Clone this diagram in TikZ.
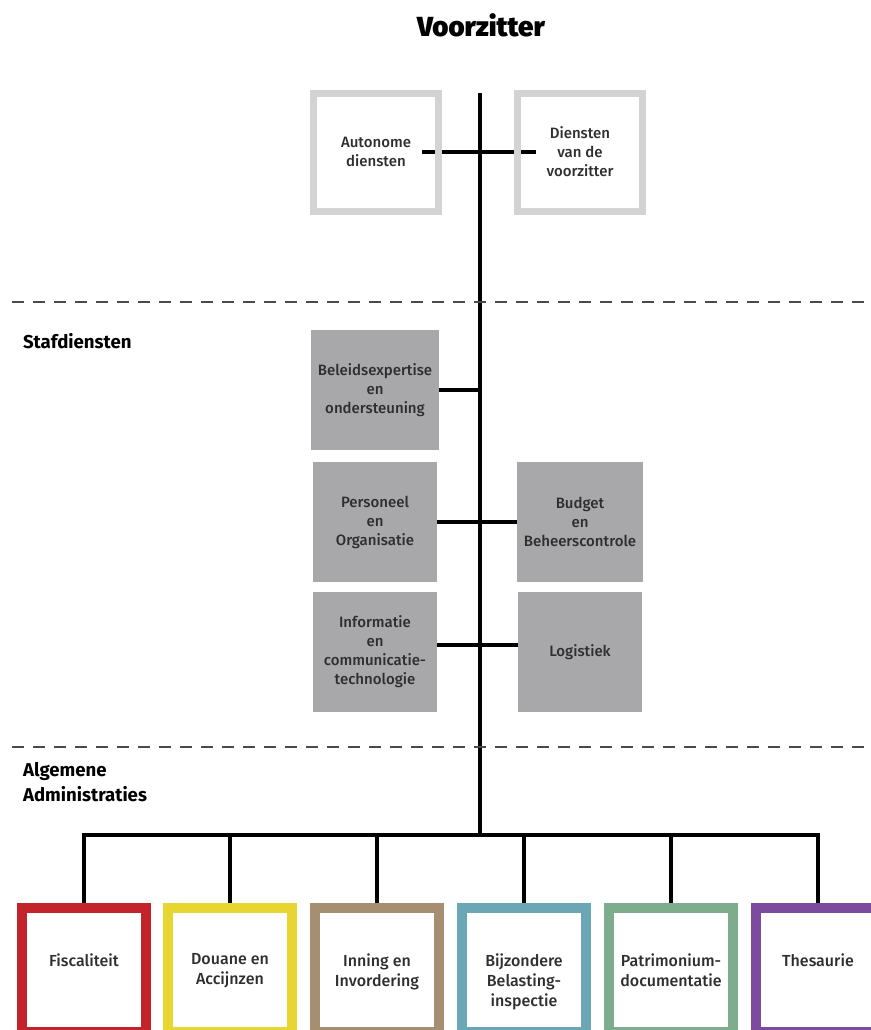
\documentclass[tikz,border=0pt]{standalone}
\usepackage{fontspec}
\setmainfont{Fira Sans}
\newfontfamily\halfvet{Fira Sans Medium}
\newfontfamily\zwaar{Fira Sans Black}
\usetikzlibrary{positioning,backgrounds}

\definecolor{lichtgrijs}{HTML}{D3D3D3}
\definecolor{grijs}{HTML}{A8A8AA}
\definecolor{tekstgrijs}{HTML}{2E2E2E}
\definecolor{streep}{HTML}{4A4A4A}
\definecolor{fisc}{HTML}{C3242C}
\definecolor{douane}{HTML}{E8D630}
\definecolor{inning}{HTML}{A58F70}
\definecolor{bbi}{HTML}{6AA6B4}
\definecolor{patr}{HTML}{7EAD8E}
\definecolor{thesau}{HTML}{7C4B9D}

\tikzset{
    lijn/.style={line width=1.6pt},
    scheiding/.style={draw=streep, line width=1pt, dash pattern=on 6pt off 4.5pt},
    kop/.style={anchor=west, align=left, font=\bfseries\fontsize{9.3}{12.5}\selectfont},
    randbox/.style={draw=lichtgrijs, line width=3.5pt, minimum width=62.5pt, minimum height=59pt,
        align=center, text=tekstgrijs, font=\halfvet\fontsize{7.5}{9.5}\selectfont},
    grijsbox/.style={fill=grijs, minimum width=62pt, minimum height=60pt,
        align=center, text=tekstgrijs, font=\halfvet\fontsize{7.5}{9.5}\selectfont},
    admbox/.style={draw=#1, line width=5pt, minimum width=62pt, minimum height=62pt},
    admtekst/.style={anchor=north, inner sep=0pt, align=center, text=tekstgrijs,
        font=\halfvet\fontsize{8}{10}\selectfont}
}

\begin{document}
\begin{tikzpicture}[x=0.5pt,y=-0.5pt]
    \clip (0,0) rectangle (871,1030);
    % Titel
    \node[font=\zwaar\fontsize{13.8}{15}\selectfont] (voorz) at (481,25) {Voorzitter};
    % Stam
    \coordinate (stamtop) at (480,93);
    \coordinate (stamvoet) at (480,835);
    \draw[lijn] (stamtop) -- (stamvoet);
    % Diensten bij de voorzitter
    \node[randbox] (auto) at (376,152) {Autonome\\diensten};
    \node[randbox] (dvv) at (580,152) {Diensten\\van de\\voorzitter};
    \begin{scope}[on background layer]
        \draw[lijn] ([xshift=-10pt]auto.east) -- ([xshift=11pt]dvv.west);
    \end{scope}
    % Scheidingslijnen
    \coordinate (sch1l) at (12,302);
    \coordinate (sch1r) at (871,302);
    \coordinate (sch2l) at (12,747);
    \coordinate (sch2r) at (871,747);
    \draw[scheiding] (sch1l) -- (sch1r);
    \draw[scheiding] (sch2l) -- (sch2r);
    \node[kop] (staf) at (16,341) {Stafdiensten};
    \node[kop] (alg) at (16,782) {Algemene\\Administraties};
    % Stafdiensten
    \node[grijsbox] (beleid) at (375,390) {Beleidsexpertise\\en\\ondersteuning};
    \node[grijsbox] (pers) at (375,522) {Personeel\\en\\Organisatie};
    \node[grijsbox] (budget) at (580,522) {Budget\\en\\Beheerscontrole};
    \node[grijsbox] (ict) at (375,652) {Informatie\\en\\communicatie-\\technologie};
    \node[grijsbox] (logist) at (580,652) {Logistiek};
    \draw[lijn] (beleid.east) -- (beleid.east -| stamtop);
    \draw[lijn] (pers) -- (budget);
    \draw[lijn] ([yshift=3.5pt]ict.east) -- ([yshift=3.5pt]logist.west);
    % Algemene administraties
    \foreach \x/\kl/\naam/\tekst in {84/fisc/fis/Fiscaliteit, 230/douane/dou/{Douane en\\Accijnzen},
        377/inning/inn/{Inning en\\Invordering}, 524/bbi/bbi/{Bijzondere\\Belasting-\\inspectie},
        671/patr/pat/{Patrimonium-\\documentatie}, 818/thesau/thes/Thesaurie}{
        \node[admbox=\kl] (\naam) at (\x,970) {};
        \node[admtekst] (\naam-t) at (\x,953) {\tekst};
        \draw[lijn] (\naam.north |- stamvoet) -- (\naam.north);
    }
    \draw[lijn, line cap=rect] (fis.north |- stamvoet) -- (thes.north |- stamvoet);
\end{tikzpicture}
\end{document}
